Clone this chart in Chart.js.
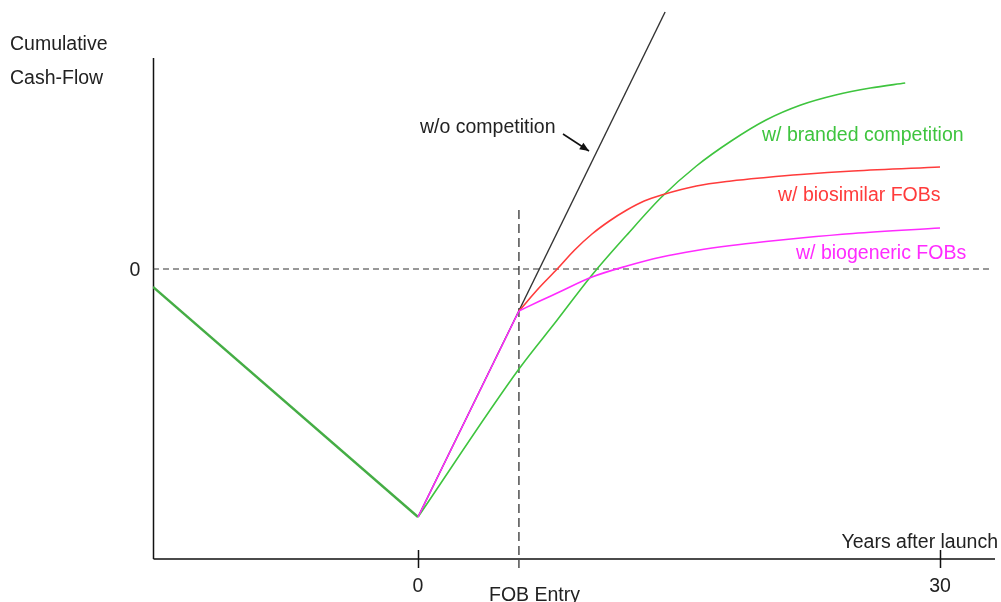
<!DOCTYPE html>
<html>
<head>
<meta charset="utf-8">
<script src="https://cdn.jsdelivr.net/npm/chart.js@4/dist/chart.umd.min.js"></script>
<style>
  html, body { margin: 0; padding: 0; background: #fff; }
  #wrap { width: 1001px; height: 602px; position: relative; }
</style>
</head>
<body>
<div id="wrap"><canvas id="chart"></canvas></div>
<script>
// values: x = years after launch, y = cumulative cash-flow (arbitrary units)
const preLaunchX = [-15.23, 0];
const preLaunchY = [-1.8, -24.8];

const noCompetitionX = [0, 14.2];
const noCompetitionY = [-24.8, 25.7];

const fobEntryYear = 5.8;
const rampX = [0, 5.8];
const rampY = [-24.8, -4.2];

const biosimilarX = [5.8, 7, 8, 9, 10, 11, 12, 13, 14, 16, 18, 20, 22, 25, 30];
const biosimilarY = [-4.2, -1.8, 0.0, 1.9, 3.5, 4.8, 5.9, 6.8, 7.4, 8.3, 8.8, 9.15, 9.45, 9.8, 10.2];

const biogenericX = [5.8, 7, 8, 10, 12, 14, 16, 18, 20, 22, 25, 30];
const biogenericY = [-4.2, -3.2, -2.4, -0.8, 0.3, 1.2, 1.85, 2.35, 2.75, 3.1, 3.55, 4.1];

const brandedX = [0, 5.8, 8, 10, 12, 14, 16, 18, 20, 22, 24, 26, 28];
const brandedY = [-24.8, -10.0, -5.1, -0.6, 3.4, 7.2, 10.3, 12.8, 14.9, 16.4, 17.4, 18.1, 18.6];

const xTicks = [0, 30];
const zeroLineX = [-15.23, 32.87];
const fobLineY = [5.9, -29.9];

const toPts = (xs, ys) => xs.map((x, i) => ({ x, y: ys[i] }));

const GREEN = '#3ec43e', RED = '#ff3b3b', MAGENTA = '#ff2bff', DARK = '#333333';
const FONT = '19.5px "Liberation Sans", Arial, sans-serif';

const line = (data, color, width, extra) => Object.assign({
  data, borderColor: color, borderWidth: width, pointRadius: 0, fill: false, tension: 0
}, extra || {});

const decor = {
  id: 'decor',
  beforeDatasetsDraw(chart) {
    const { ctx, scales: { x, y } } = chart;
    ctx.save();
    ctx.strokeStyle = '#111';
    ctx.lineWidth = 1.5;
    const axisY = 559, axisX = x.getPixelForValue(-15.23) + 0.5;
    ctx.beginPath();
    ctx.moveTo(axisX, 58); ctx.lineTo(axisX, axisY);
    ctx.moveTo(axisX, axisY); ctx.lineTo(995, axisY);
    xTicks.forEach(t => {
      const px = Math.round(x.getPixelForValue(t)) + 0.5;
      ctx.moveTo(px, 550); ctx.lineTo(px, 568);
    });
    ctx.stroke();
    ctx.restore();
  },
  afterDatasetsDraw(chart) {
    const { ctx, scales: { x, y } } = chart;
    ctx.save();
    ctx.font = FONT;
    ctx.textBaseline = 'alphabetic';
    ctx.fillStyle = '#222';
    ctx.textAlign = 'left';
    ctx.fillText('Cumulative', 10, 50);
    ctx.fillText('Cash-Flow', 10, 84);
    ctx.fillText('w/o competition', 420, 133);
    ctx.textAlign = 'right';
    ctx.fillText('Years after launch', 998, 548);
    ctx.textAlign = 'center';
    ctx.fillText('0', 135, y.getPixelForValue(0) + 7);
    xTicks.forEach(t => ctx.fillText(String(t), x.getPixelForValue(t), 592));
    ctx.textAlign = 'left';
    ctx.fillText('FOB Entry', 489, 601);

    ctx.fillStyle = GREEN; ctx.fillText('w/ branded competition', 762, 141);
    ctx.fillStyle = RED; ctx.fillText('w/ biosimilar FOBs', 778, 201);
    ctx.fillStyle = MAGENTA; ctx.fillText('w/ biogeneric FOBs', 796, 259);

    // arrow pointing at the no-competition line
    ctx.strokeStyle = '#111'; ctx.fillStyle = '#111'; ctx.lineWidth = 1.5;
    const x1 = 563, y1 = 134, x2 = 589, y2 = 151;
    ctx.beginPath(); ctx.moveTo(x1, y1); ctx.lineTo(x2, y2); ctx.stroke();
    const a = Math.atan2(y2 - y1, x2 - x1);
    ctx.beginPath();
    ctx.moveTo(x2, y2);
    ctx.lineTo(x2 - 10 * Math.cos(a - 0.4), y2 - 10 * Math.sin(a - 0.4));
    ctx.lineTo(x2 - 10 * Math.cos(a + 0.4), y2 - 10 * Math.sin(a + 0.4));
    ctx.closePath(); ctx.fill();
    ctx.restore();
  }
};

new Chart(document.getElementById('chart'), {
  type: 'line',
  data: {
    datasets: [
      line(toPts(rampX, rampY), MAGENTA, 1.6),
      line(toPts(biogenericX, biogenericY), MAGENTA, 1.6, { cubicInterpolationMode: 'monotone' }),
      line(toPts(biosimilarX, biosimilarY), RED, 1.6, { cubicInterpolationMode: 'monotone' }),
      line(toPts(brandedX, brandedY), GREEN, 1.6, { cubicInterpolationMode: 'monotone' }),
      line(toPts(noCompetitionX, noCompetitionY), DARK, 1.4),
      line(toPts(preLaunchX, preLaunchY), '#45ad45', 2.4),
      line(toPts(zeroLineX, [0, 0]), DARK, 1.2, { borderDash: [6, 4] }),
      line(toPts([fobEntryYear, fobEntryYear], fobLineY), DARK, 1.3, { borderDash: [9, 5] })
    ]
  },
  options: {
    responsive: true, maintainAspectRatio: false, animation: false, devicePixelRatio: 1,
    layout: { padding: { left: 153, right: 6, top: 0, bottom: 0 } },
    plugins: { legend: { display: false }, tooltip: { enabled: false } },
    scales: {
      x: { type: 'linear', min: -15.23, max: 33.16, display: false },
      y: { type: 'linear', min: -33.3, max: 26.9, display: false }
    }
  },
  plugins: [decor]
});
</script>
</body>
</html>
